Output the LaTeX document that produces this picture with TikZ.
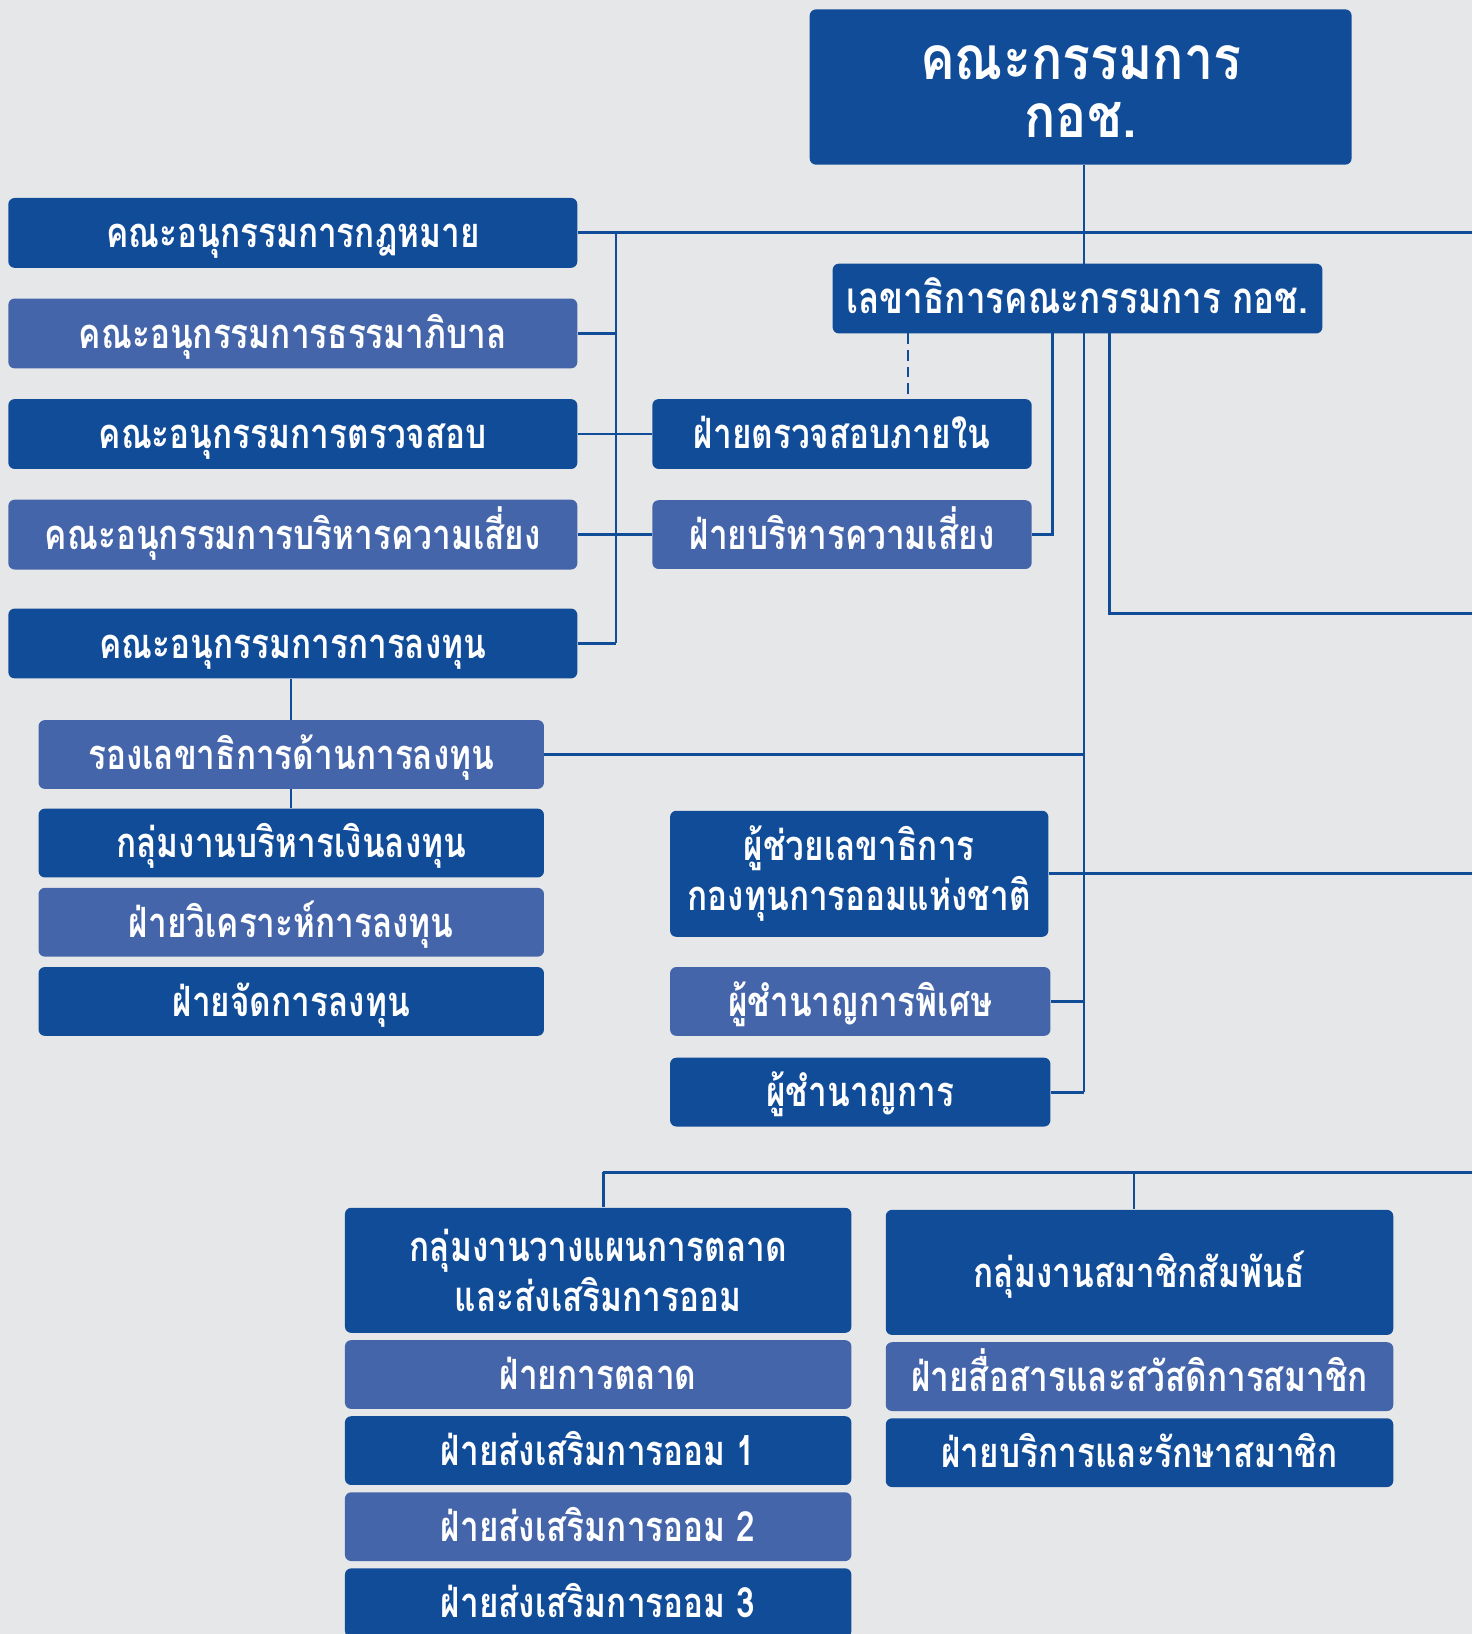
\documentclass[tikz,border=0pt]{standalone}
\usepackage{fontspec}
\newfontfamily\thai[Script=Thai,FakeStretch=0.8]{Loma}
\newfontfamily\thaiT[Script=Thai,FakeStretch=0.86]{Loma}
\definecolor{bg}{HTML}{E6E7E9}
\definecolor{dblue}{HTML}{114C99}
\definecolor{lblue}{HTML}{4565AA}
\definecolor{lnblue}{HTML}{114C99}
\tikzset{
  bx/.style 2 args={rounded corners=3pt, inner sep=0pt, text=white, align=center,
     minimum width=#1*0.5pt, minimum height=#2*0.5pt,
     font=\thai\bfseries\fontsize{20}{24}\selectfont},
  one/.style={text height=14.2pt, text depth=0pt},
  dk/.style={fill=dblue},
  lt/.style={fill=lblue},
  ln/.style={draw=lnblue, line width=1.1pt},
  lnk/.style={draw=lnblue, line width=1.4pt},
}
\begin{document}
\begin{tikzpicture}[x=0.5pt,y=-0.5pt]
\fill[bg] (0,0) rectangle (1413,1568);
\useasboundingbox (0,0) rectangle (1413,1568);
% coordinates
\coordinate (tx) at (1040,0);
\coordinate (bus) at (591,0);
\coordinate (dx) at (871,0);
\coordinate (rx) at (1010,0);
\coordinate (fx) at (1065,0);
\coordinate (bx1) at (579,0);
\coordinate (bx2) at (1088,0);
\coordinate (R1) at (1413,223.5);
\coordinate (R2) at (1413,589);
\coordinate (R3) at (1413,838.5);
\coordinate (R4) at (1413,1125);
% lines
\draw[ln] (tx |- 0,158) -- (tx |- 0,253);
\draw[ln] (tx |- 0,320) -- (tx |- 0,1048);
\draw[ln] (bus |- 0,223.5) -- (bus |- 0,617.5);
\draw[ln, dashed, dash pattern=on 5pt off 3pt] (dx |- 0,320) -- (dx |- 0,383);
\draw[ln] (rx |- 0,320) -- (rx |- 0,513) -- (990,513);
\draw[lnk] (fx |- 0,320) -- (fx |- R2) -- (R2);
% nodes
\node[bx={520}{149}, dk, font=\thaiT\bfseries\fontsize{29}{28}\selectfont] (top) at (1037,83.5) {\rule{0pt}{20.5pt}คณะกรรมการ\\กอช.};
\node[bx={470}{67}, dk, one, font=\thai\bfseries\fontsize{21}{24}\selectfont] (sec) at (1034,286.5) {เลขาธิการคณะกรรมการ กอช.};
\node[bx={546}{67}, dk, one] (law) at (281,223.5) {คณะอนุกรรมการกฎหมาย};
\node[bx={546}{67}, lt, one] (gov) at (281,320) {คณะอนุกรรมการธรรมาภิบาล};
\node[bx={546}{67}, dk, one] (aud) at (281,416.5) {คณะอนุกรรมการตรวจสอบ};
\node[bx={546}{67}, lt, one] (risk) at (281,513) {คณะอนุกรรมการบริหารความเสี่ยง};
\node[bx={546}{67}, dk, one] (inv) at (281,617.5) {คณะอนุกรรมการการลงทุน};
\node[bx={364}{67}, dk, one] (ia) at (808,416.5) {ฝ่ายตรวจสอบภายใน};
\node[bx={364}{66}, lt, one] (rm) at (808,513) {ฝ่ายบริหารความเสี่ยง};
\node[bx={485}{66}, lt, one] (dep) at (279.5,724) {รองเลขาธิการด้านการลงทุน};
\node[bx={485}{66}, dk, one] (g1) at (279.5,809) {กลุ่มงานบริหารเงินลงทุน};
\node[bx={485}{66}, lt, one] (g2) at (279.5,885) {ฝ่ายวิเคราะห์การลงทุน};
\node[bx={485}{66}, dk, one] (g3) at (279.5,961) {ฝ่ายจัดการลงทุน};
\node[bx={363}{121}, dk] (asst) at (824.5,838.5) {ผู้ช่วยเลขาธิการ\\กองทุนการออมแห่งชาติ};
\node[bx={365}{66}, lt, one] (sp) at (825.5,961) {ผู้ชำนาญการพิเศษ};
\node[bx={365}{66}, dk, one] (ex) at (825.5,1048) {ผู้ชำนาญการ};
\node[bx={486}{120}, dk] (mk) at (574,1219) {กลุ่มงานวางแผนการตลาด\\และส่งเสริมการออม};
\node[bx={486}{66}, lt, one] (m1) at (574,1319) {ฝ่ายการตลาด};
\node[bx={486}{66}, dk, one] (m2) at (574,1392) {ฝ่ายส่งเสริมการออม 1};
\node[bx={486}{66}, lt, one] (m3) at (574,1465) {ฝ่ายส่งเสริมการออม 2};
\node[bx={486}{66}, dk, one] (m4) at (574,1538) {ฝ่ายส่งเสริมการออม 3};
\node[bx={487}{120}, dk, one] (mem) at (1093.5,1221) {กลุ่มงานสมาชิกสัมพันธ์};
\node[bx={487}{66}, lt, one] (c1) at (1093.5,1321) {ฝ่ายสื่อสารและสวัสดิการสมาชิก};
\node[bx={487}{66}, dk, one] (c2) at (1093.5,1394) {ฝ่ายบริการและรักษาสมาชิก};
% connectors
\draw[lnk] (law.east) -- (R1);
\draw[ln] (gov.east) -- (bus |- gov.east);
\draw[ln] (aud.east) -- (ia.west);
\draw[ln] (risk.east) -- (rm.west);
\draw[ln] (inv.east) -- (bus |- inv.east);
\draw[ln] (dep.north |- inv.south) -- (dep.north);
\draw[ln] (dep.south) -- (g1.north);
\draw[ln] (dep.east) -- (tx |- dep.east);
\draw[lnk] (asst.east) -- (R3);
\draw[lnk] (sp.east) -- (tx |- sp.east);
\draw[lnk] (ex.east) -- (tx |- ex.east);
\draw[lnk] (bx1 |- R4) -- (R4);
\draw[ln] (bx1 |- R4) -- (bx1 |- mk.north);
\draw[ln] (bx2 |- R4) -- (bx2 |- mem.north);
\end{tikzpicture}
\end{document}
